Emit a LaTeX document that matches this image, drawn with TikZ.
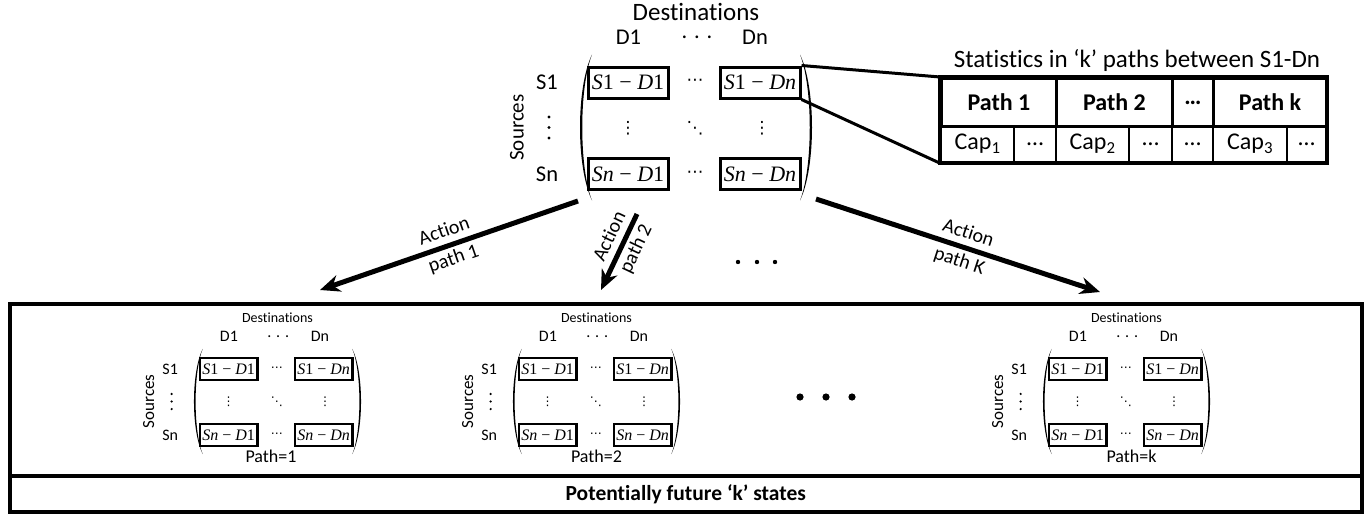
\documentclass[tikz,border=0pt]{standalone}
\usepackage{fontspec}
\setmainfont{Carlito}[Ligatures={NoCommon}]
\newfontfamily\symfont{DejaVu Sans}
\newfontfamily\mathlike{Liberation Serif}
\usetikzlibrary{arrows.meta}

\newcommand{\pr}[4]{{\mathlike\textit{#1}#2\ −\ \textit{#3}#4}}

\tikzset{
  lab/.style={font=\fontsize{#1}{#1}\selectfont, inner sep=0pt},
  symlab/.style={font=\symfont\fontsize{#1}{#1}\selectfont, inner sep=0pt},
  pairbox/.style 2 args={draw, line width=#1, inner sep=0pt,
    minimum width={#2*80pt}, minimum height={#2*31pt}},
  tcell/.style={draw, line width=3pt, anchor=north west, inner sep=0pt,
    minimum height=48pt, font=\fontsize{24}{24}\selectfont\bfseries},
  bcell/.style={draw, line width=2.2pt, anchor=north west, inner sep=0pt,
    minimum height=36pt, font=\fontsize{24}{24}\selectfont},
  zoomline/.style={line width=3pt},
  actarrow/.style={line width=5pt, -{Stealth[length=20pt,width=17pt]}},
  actlab/.style={sloped, align=center, inner sep=0pt,
    font=\fontsize{20}{29}\selectfont},
  bigbox/.style={draw, line width=4pt, anchor=north west, inner sep=0pt},
}

% #1 prefix, #2 cx, #3 cy, #4 scale, #5 label size, #6 destinations size,
% #7 pair text size, #8 box line width, #9 sources size
\newcommand{\statemat}[9]{%
\begin{scope}[shift={(#2,#3)}, scale=#4]
  \pgfmathsetmacro\symsmall{#5*0.75}%
  \node[lab=#6] (#1dest) at (0,-116) {Destinations};
  \node[lab=#5] (#1dA) at (-67.5,-90) {D1};
  \node[lab=#5] (#1dB) at (1,-90) {. . .};
  \node[lab=#5] (#1dC) at (59,-90) {Dn};
  \node[lab=#5] (#1sA) at (-149,-45) {S1};
  \foreach \dy in {-10.5,0,10.5} \fill (-147,\dy) circle (1.7);
  \node[lab=#5] (#1sC) at (-149,46.5) {Sn};
  \node[lab=#9, rotate=90] (#1src) at (-179,0) {Sources};
  \node[pairbox={#8}{#4}, lab=#7] (#1bAA) at (-68,-45) {\pr{S}{1}{D}{1}};
  \node[pairbox={#8}{#4}, lab=#7] (#1bAC) at (64,-45) {\pr{S}{1}{Dn}{}};
  \node[pairbox={#8}{#4}, lab=#7] (#1bCA) at (-68,46.5) {\pr{Sn}{}{D}{1}};
  \node[pairbox={#8}{#4}, lab=#7] (#1bCC) at (64,46.5) {\pr{Sn}{}{Dn}{}};
  \node[symlab=\symsmall] (#1hA) at (-1,-45) {⋯};
  \node[symlab=\symsmall] (#1hC) at (-1,46.5) {⋯};
  \node[symlab=\symsmall] (#1vA) at (-68,1) {⋮};
  \node[symlab=\symsmall] (#1vB) at (-1,1) {⋱};
  \node[symlab=\symsmall] (#1vC) at (66,1) {⋮};
  \fill (-104,-73) .. controls (-120,-40) and (-120,40) .. (-104,73)
        .. controls (-117,40) and (-117,-40) .. (-104,-73) -- cycle;
  \fill (104,-73) .. controls (120,-40) and (120,40) .. (104,73)
        .. controls (117,40) and (117,-40) .. (104,-73) -- cycle;
\end{scope}}

\begin{document}
\begin{tikzpicture}[x=1pt, y=-1pt]
\useasboundingbox (0,0) rectangle (1369,514);
\fill[white] (0,0) rectangle (1369,514);

% top matrix
\statemat{t}{696}{127.5}{1}{22.5}{25}{22}{3pt}{21}

% statistics table
\node[lab=25] (ttitle) at (1137,60) {Statistics in ‘k’ paths between S1-Dn};
\node[tcell, minimum width=115pt] (p1) at (940,77) {Path 1};
\node[tcell, minimum width=116pt] (p2) at (1055,77) {Path 2};
\node[tcell, minimum width=41pt] (p3) at (1171,77) {…};
\node[tcell, minimum width=113pt] (p4) at (1212,77) {Path k};
\node[bcell, minimum width=73pt] (c1) at (940,125) {Cap\textsubscript{1}};
\node[bcell, minimum width=42pt] (c2) at (1013,125) {…};
\node[bcell, minimum width=73pt] (c3) at (1055,125) {Cap\textsubscript{2}};
\node[bcell, minimum width=43pt] (c4) at (1128,125) {…};
\node[bcell, minimum width=41pt] (c5) at (1171,125) {…};
\node[bcell, minimum width=74pt] (c6) at (1212,125) {Cap\textsubscript{3}};
\node[bcell, minimum width=39pt] (c7) at (1286,125) {…};
\draw[line width=3.5pt] (p1.north west) rectangle (c7.south east);

% zoom lines
\draw[zoomline] (tbAC.north east) -- (p1.north west);
\draw[zoomline] (tbAC.south east) -- (c1.south west);

% bottom frame
\node[bigbox, minimum width=1352.5pt, minimum height=172pt] (states) at (7.5,302) {};
\node[bigbox, minimum width=1352.5pt, minimum height=36pt,
      font=\fontsize{21.5}{21.5}\selectfont\bfseries] (future) at (7.5,474)
      {Potentially future ‘k’ states};

% bottom matrices
\statemat{ma}{277.5}{401.5}{0.72}{16}{14}{16}{2.4pt}{17}
\statemat{mb}{596.5}{401.5}{0.72}{16}{14}{16}{2.4pt}{17}
\statemat{mk}{1126.5}{401.5}{0.72}{16}{14}{16}{2.4pt}{17}
\node[lab=18] (pathA) at (271,456) {Path=1};
\node[lab=18] (pathB) at (596.5,456) {Path=2};
\node[lab=18] (pathK) at (1131.5,456) {Path=k};

% dots
\foreach \x in {800,826,852} \fill (\x,397) circle (3.6);
\foreach \x in {738,757,775} \fill (\x,262) circle (2.2);

% actions
\coordinate (a1s) at (578,201);
\coordinate (a1e) at (320,290);
\coordinate (a2s) at (637,214);
\coordinate (a2e) at (601,290);
\coordinate (a3s) at (816,199);
\coordinate (a3e) at (1100,292);
\draw[actarrow] (a1s) -- node[actlab, pos=0.5] (l1) {Action\\path 1} (a1e);
\draw[actarrow] (a2s) -- node[actlab, pos=0.38] (l2) {Action\\path 2} (a2e);
\draw[actarrow] (a3s) -- node[actlab, pos=0.52] (l3) {Action\\path K} (a3e);
\end{tikzpicture}
\end{document}
